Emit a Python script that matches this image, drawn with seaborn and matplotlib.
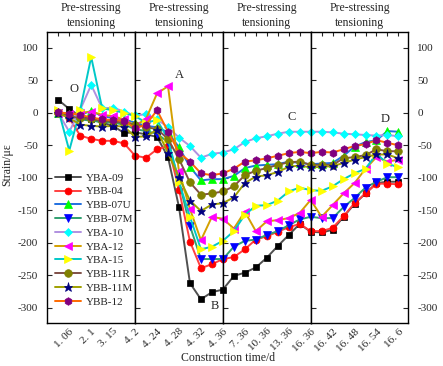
import numpy as np
import pandas as pd
import matplotlib
matplotlib.use("Agg")
import matplotlib.pyplot as plt
import seaborn as sns

# construction time labels (every second step)
TIME_LABELS = ["1. 06", "2. 1", "3. 15", "4. 2", "4. 24", "4. 28", "4. 32", "4. 36",
               "7. 36", "10. 36", "13. 36", "16. 36", "16. 42", "16. 48", "16. 54", "16. 6"]
STEPS = list(range(1, 33))

yba_09 = [20, 6, -5, -10, -15, -20, -31, -30, -33, -37, -68, -145, -262, -287, -276, -272,
          -251, -246, -238, -223, -205, -188, -171, -183, -184, -180, -160, -140, -124, -108, -106, -106]
ybb_04 = [0, -8, -35, -40, -43, -43, -47, -66, -69, -56, -51, -118, -198, -239, -233, -225,
          -222, -210, -195, -190, -183, -176, -171, -182, -182, -177, -159, -139, -124, -109, -109, -110]
ybb_07u = [0, -2, -3, 3, -5, -8, -10, -15, -20, -22, -30, -53, -83, -104, -102, -102,
           -97, -85, -81, -80, -79, -75, -77, -79, -78, -77, -66, -52, -45, -42, -28, -29]
ybb_07m = [0, -5, -10, -12, -14, -15, -18, -25, -28, -32, -45, -105, -174, -225, -225, -225,
           -206, -197, -195, -188, -182, -173, -164, -160, -162, -162, -145, -131, -115, -106, -99, -99]
yba_10 = [0, -29, 5, 43, 7, 8, 2, -4, -2, -10, -22, -38, -51, -69, -63, -61,
          -56, -45, -39, -36, -32, -29, -29, -29, -29, -30, -32, -33, -34, -35, -34, -36]
yba_12 = [0, -2, 0, 2, -3, -5, -10, -20, -9, 30, 41, -90, -148, -196, -160, -163,
          -178, -152, -182, -167, -165, -162, -154, -134, -160, -142, -124, -108, -86, -68, -75, -72]
yba_15 = [5, -58, 5, 86, 7, 4, 0, -5, -15, -11, -40, -106, -160, -210, -206, -197,
          -182, -157, -143, -142, -135, -121, -115, -119, -120, -113, -102, -93, -86, -63, -78, -84]
ybb_11r = [0, -5, -8, -10, -12, -13, -15, -18, -22, -25, -40, -71, -107, -126, -124, -121,
           -113, -96, -89, -85, -80, -76, -75, -80, -80, -80, -70, -68, -65, -56, -59, -59]
ybb_11m = [0, -8, -18, -20, -21, -20, -21, -37, -36, -26, -62, -99, -135, -151, -141, -139,
           -130, -108, -98, -96, -91, -83, -81, -84, -83, -82, -77, -72, -68, -64, -64, -70]
ybb_12 = [1, -1, -3, -7, -10, -11, -12, -24, -18, 4, -29, -61, -75, -93, -96, -93,
          -86, -75, -73, -70, -66, -62, -60, -62, -60, -61, -56, -51, -48, -42, -46, -50]

NAMES = ["YBA-09", "YBB-04", "YBB-07U", "YBB-07M", "YBA-10",
         "YBA-12", "YBA-15", "YBB-11R", "YBB-11M", "YBB-12"]
VALUES = [yba_09, ybb_04, ybb_07u, ybb_07m, yba_10, yba_12, yba_15, ybb_11r, ybb_11m, ybb_12]

# line colour, marker, marker colour, marker size
STYLE = {
    "YBA-09": ("#505050", "s", "#000000", 5),
    "YBB-04": ("#ff4040", "o", "#ff0000", 5),
    "YBB-07U": ("#2070e0", "^", "#00ff00", 5.5),
    "YBB-07M": ("#30a070", "v", "#0000ff", 5.5),
    "YBA-10": ("#b090e0", "D", "#00ffff", 4.5),
    "YBA-12": ("#d4a000", "<", "#ff00ff", 5.5),
    "YBA-15": ("#00c8c8", ">", "#ffff00", 5.5),
    "YBB-11R": ("#805048", "o", "#808000", 5.5),
    "YBB-11M": ("#a0a000", "*", "#000080", 6.5),
    "YBB-12": ("#ff6a00", "h", "#800080", 5.5),
}

df = pd.concat([pd.DataFrame({"step": STEPS, "strain": v, "gauge": n})
                for n, v in zip(NAMES, VALUES)], ignore_index=True)

sns.set_style("white")
plt.rcParams["font.family"] = ["Liberation Serif", "DejaVu Serif"]
plt.rcParams["axes.unicode_minus"] = False

fig = plt.figure(figsize=(4.43, 3.66), dpi=100)
gs = fig.add_gridspec(1, 4, left=0.1068, right=0.9217, top=0.9134, bottom=0.1183,
                      wspace=0, width_ratios=[8, 8, 8, 8.9])
axes = []
for k in range(4):
    ax = fig.add_subplot(gs[0, k], sharey=axes[0] if axes else None)
    axes.append(ax)

for k, ax in enumerate(axes):
    lo, hi = 8 * k, 8 * k + 8
    sub = df[(df["step"] >= lo) & (df["step"] <= hi)]
    for name in NAMES:
        lc, mk, mc, ms = STYLE[name]
        sns.lineplot(data=sub[sub["gauge"] == name], x="step", y="strain", ax=ax,
                     color=lc, marker=mk, markerfacecolor=mc, markeredgecolor=mc,
                     markeredgewidth=0.5, markersize=ms, linewidth=1.4,
                     label=name if k == 0 else None, legend=False)
    ax.set_xlim(lo, hi if k < 3 else 32.9)
    ax.set_ylim(-323, 125)
    ticks = list(range(lo + 1, hi + 1))
    ax.set_xticks(ticks)
    ax.set_xticklabels([TIME_LABELS[t // 2 - 1] if t % 2 == 0 else "" for t in ticks],
                       rotation=45, ha="right", va="top", rotation_mode="anchor", fontsize=8)
    ax.set_yticks(np.arange(-300, 101, 50))
    ax.tick_params(axis="x", direction="in", top=True, length=3, width=0.8, pad=3)
    ax.tick_params(axis="y", direction="in", left=True, length=3.5, width=0.8,
                   labelsize=8, pad=6.5, labelleft=(k == 0))
    ax.set_xlabel("")
    ax.set_ylabel("")
    for sp in ax.spines.values():
        sp.set_linewidth(1.0)
        sp.set_color("black")
    ax.set_title("Pre-stressing\ntensioning", fontsize=8.5, pad=4, linespacing=1.3)

axes[3].tick_params(axis="y", right=True, labelright=True)

axes[0].legend(loc="upper left", bbox_to_anchor=(0.088, 0.515), frameon=False,
               fontsize=8, handlelength=2.3, handletextpad=0.5, labelspacing=0.36,
               borderpad=0, borderaxespad=0)

axes[0].text(2.44, 37, "O", fontsize=9, ha="center", va="center")
axes[1].text(12.04, 58, "A", fontsize=9, ha="center", va="center")
axes[1].text(15.24, -297, "B", fontsize=9, ha="center", va="center")
axes[2].text(22.3, -6, "C", fontsize=9, ha="center", va="center")
axes[3].text(30.8, -10, "D", fontsize=9, ha="center", va="center")

fig.text(227.8 / 443, 1 - 357.7 / 366, "Construction time/d", ha="center", va="center", fontsize=8.5)
fig.text(7.5 / 443, 1 - 165 / 366, "Strain/με", ha="center", va="center", rotation=90, fontsize=8.5)

fig.savefig("out.png", dpi=100)
